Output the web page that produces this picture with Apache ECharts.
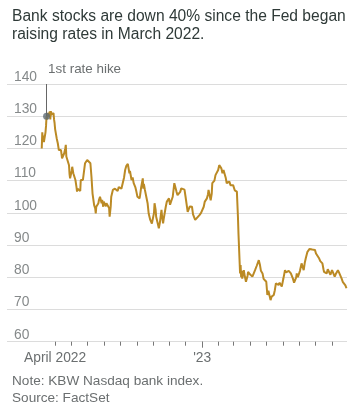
<!DOCTYPE html>
<html>
<head>
<meta charset="utf-8">
<script src="https://cdn.jsdelivr.net/npm/echarts@6/dist/echarts.min.js"></script>
<style>
html,body{margin:0;padding:0;background:#fff;}
#chart{width:355px;height:417px;}
</style>
</head>
<body>
<div id="chart"></div>
<script>
// ---- Data ----
const titleText = "Bank stocks are down 40% since the Fed began\nraising rates in March 2022.";
const noteText = "Note: KBW Nasdaq bank index.";
const sourceText = "Source: FactSet";

const dates = [
"2022-03-07","2022-03-08","2022-03-09","2022-03-10","2022-03-11","2022-03-14","2022-03-15","2022-03-16","2022-03-17","2022-03-18",
"2022-03-21","2022-03-22","2022-03-23","2022-03-24","2022-03-25","2022-03-28","2022-03-29","2022-03-30","2022-03-31","2022-04-01",
"2022-04-04","2022-04-06","2022-04-08","2022-04-11","2022-04-12","2022-04-14","2022-04-18","2022-04-20","2022-04-21","2022-04-22",
"2022-04-25","2022-04-27","2022-04-28","2022-04-29","2022-05-02","2022-05-03","2022-05-05","2022-05-09","2022-05-11","2022-05-12",
"2022-05-13","2022-05-16","2022-05-18","2022-05-19","2022-05-23","2022-05-25","2022-05-27","2022-05-31","2022-06-02","2022-06-06",
"2022-06-08","2022-06-10","2022-06-13","2022-06-15","2022-06-16","2022-06-17","2022-06-21","2022-06-22","2022-06-24","2022-06-27",
"2022-06-28","2022-06-30","2022-07-01","2022-07-05","2022-07-06","2022-07-08","2022-07-11","2022-07-12","2022-07-14","2022-07-15",
"2022-07-18","2022-07-20","2022-07-22","2022-07-25","2022-07-27","2022-07-29","2022-08-01","2022-08-03","2022-08-05","2022-08-08",
"2022-08-10","2022-08-12","2022-08-15","2022-08-16","2022-08-18","2022-08-19","2022-08-22","2022-08-24","2022-08-26","2022-08-29",
"2022-08-31","2022-09-02","2022-09-06","2022-09-07","2022-09-09","2022-09-12","2022-09-13","2022-09-14","2022-09-16","2022-09-19",
"2022-09-21","2022-09-23","2022-09-26","2022-09-29","2022-09-30","2022-10-03","2022-10-04","2022-10-06","2022-10-07","2022-10-11",
"2022-10-12","2022-10-14","2022-10-17","2022-10-18","2022-10-20","2022-10-21","2022-10-25","2022-10-26","2022-10-27","2022-10-31",
"2022-11-02","2022-11-03","2022-11-07","2022-11-10","2022-11-11","2022-11-14","2022-11-16","2022-11-18","2022-11-21","2022-11-23",
"2022-11-25","2022-11-29","2022-12-01","2022-12-05","2022-12-07","2022-12-09","2022-12-13","2022-12-15","2022-12-19","2022-12-22",
"2022-12-27","2022-12-30","2023-01-04","2023-01-06","2023-01-10","2023-01-12","2023-01-13","2023-01-17","2023-01-19","2023-01-20",
"2023-01-24","2023-01-26","2023-01-31","2023-02-02","2023-02-03","2023-02-06","2023-02-08","2023-02-10","2023-02-14","2023-02-16",
"2023-02-21","2023-02-23","2023-02-28","2023-03-03","2023-03-07","2023-03-08","2023-03-09","2023-03-10","2023-03-13","2023-03-14",
"2023-03-15","2023-03-16","2023-03-17","2023-03-20","2023-03-21","2023-03-24","2023-03-27","2023-03-28","2023-03-31","2023-04-03",
"2023-04-05","2023-04-07","2023-04-10","2023-04-13","2023-04-17","2023-04-19","2023-04-21","2023-04-24","2023-04-26","2023-04-28",
"2023-05-01","2023-05-03","2023-05-05","2023-05-09","2023-05-11","2023-05-15","2023-05-17","2023-05-19","2023-05-22","2023-05-24",
"2023-05-26","2023-05-30","2023-06-02","2023-06-05","2023-06-07","2023-06-09","2023-06-12","2023-06-14","2023-06-16","2023-06-20",
"2023-06-22","2023-06-26","2023-06-27","2023-06-29","2023-06-30","2023-07-03","2023-07-06","2023-07-10","2023-07-12","2023-07-14",
"2023-07-17","2023-07-19","2023-07-21","2023-07-24","2023-07-26","2023-07-28","2023-07-31","2023-08-02","2023-08-04","2023-08-08",
"2023-08-10","2023-08-14","2023-08-16","2023-08-17","2023-08-22","2023-08-24","2023-08-25","2023-08-29","2023-08-30","2023-09-01",
"2023-09-06","2023-09-08","2023-09-12","2023-09-14","2023-09-19","2023-09-21","2023-09-22","2023-09-26","2023-09-28"
];
const values = [
120,125,122.5,124,122,125,127,130,129,131,
130,131.5,129,131.6,130.5,130.4,131,129,127.9,126,
123.1,121.6,119.5,119,119.5,116.9,118.5,120,121.1,117.5,
116.9,114.8,112,110.7,113,114.3,112.3,110.2,108,106.6,
107.5,107.1,106.8,110.2,110.2,110.7,115.4,116.4,115.9,115.4,
111.2,106,102.4,101.4,99.8,101.9,103,104,105,103,
104,101.9,103.5,102,103,102.4,101.5,98.8,102,105,
107.1,106.5,107.5,107.7,106.8,108,108.1,107.5,108.1,111,
113.3,114.5,115.2,114.8,112.3,113,110.2,111,109.2,108,
106.6,105,104.5,105.5,108,110.7,107.5,109,107.1,106.6,
103,99.8,97.8,96.7,96.2,100,103,101,98.8,96,
95.2,97,100.9,99,96.7,98,101.9,101.4,103.5,104.5,
102.5,101.9,105,109.2,109.7,106.6,105.5,105.5,106.5,107.6,
107,107.2,105,100.3,100.8,102,101.9,99.5,97.8,98.2,
99.3,100,101.9,103.5,104.5,105.8,107.1,103.9,106,109.2,
110,111.7,113.3,114.8,114.2,113.8,112.3,113.3,111,109.2,
109.7,108.6,108.6,107,106.6,106,98.8,93.5,81.2,83.8,
80,82,79.6,82.2,81,78.6,80.5,81.7,81,80.5,
80.2,81,82.2,83.5,85.3,84,82,81.2,79.5,80,
78.6,74.5,75.8,72.9,74,74.5,76,78.1,77.5,77.6,
78.3,77.1,79.6,82.2,81.5,81.7,82,81.5,81.2,79.5,
78.3,80,81.2,80,80.5,82,84.3,82.2,84.5,86,
87.9,88.5,88.8,89,88.6,89,88.5,87.4,88,85.8,
85,84.3,82.5,81.7,81.2,82.5,82,80.8,80.2,82.2,
80.2,81,82.2,81.5,79.6,78.6,78.1,77.5,76.6
];

// Axis settings
const xMin = "2022-01-01";
const xMax = "2023-09-29";
const yMin = 60, yMax = 140, yStep = 10;
const monthTicks = [
"2022-04-01","2022-05-01","2022-06-01","2022-07-01","2022-08-01","2022-09-01","2022-10-01","2022-11-01","2022-12-01",
"2023-01-01","2023-02-01","2023-03-01","2023-04-01","2023-05-01","2023-06-01","2023-07-01","2023-08-01","2023-09-01"
];
const xLabelDates = ["2022-04-01","2023-01-01"];
const xLabelTexts = ["April 2022","'23"];
const yearTickDates = ["2023-01-01"];

// Annotation
const annoDate = "2022-03-16";
const annoValue = 130;
const annoTop = 140;
const annoText = "1st rate hike";

// ---- Build ----
function ts(s){ const p = s.split('-').map(Number); return Date.UTC(p[0], p[1]-1, p[2]); }
const seriesData = dates.map((d,i)=>[ts(d), values[i]]);
const labelTs = xLabelDates.map(ts);

const FONT = "'Liberation Sans', Arial, sans-serif";
const chart = echarts.init(document.getElementById('chart'), null, {renderer:'canvas'});
chart.setOption({
  animation: false,
  backgroundColor: '#fff',
  title: [
    { text: titleText, left: 7, top: 3,
      textStyle: { fontFamily: FONT, fontSize: 15.6, fontWeight: 'normal', color: '#2f3a38', lineHeight: 17.5 } },
    { text: noteText + "\n" + sourceText, left: 7, top: 367,
      textStyle: { fontFamily: FONT, fontSize: 13.6, fontWeight: 'normal', color: '#6b6f70', lineHeight: 17.5 } }
  ],
  grid: { left: 7, right: 8, top: 84, bottom: 75.3, containLabel: false },
  xAxis: [
    { type: 'value', min: ts(xMin), max: ts(xMax), scale: true,
      axisLine: { show: false },
      splitLine: { show: false },
      axisTick: { show: true, length: 4, lineStyle: { color: '#777', width: 1 }, customValues: monthTicks.map(ts) },
      axisLabel: { show: true, customValues: labelTs, margin: 9, hideOverlap: false,
        fontFamily: FONT, fontSize: 13.8, color: '#6b6f70',
        formatter: function(v){ const i = labelTs.indexOf(v); return i >= 0 ? xLabelTexts[i] : ''; } }
    },
    { type: 'value', min: ts(xMin), max: ts(xMax), scale: true, position: 'bottom',
      axisLine: { show: false }, splitLine: { show: false },
      axisTick: { show: true, length: 6, lineStyle: { color: '#777', width: 1 }, customValues: yearTickDates.map(ts) },
      axisLabel: { show: false }
    }
  ],
  yAxis: {
    type: 'value', min: yMin, max: yMax, interval: yStep,
    axisLine: { show: false }, axisTick: { show: false },
    splitLine: { show: true, lineStyle: { color: '#dcdcdc', width: 1 } },
    axisLabel: { inside: true, margin: 7, verticalAlign: 'bottom', padding: [0,0,0,0],
      fontFamily: FONT, fontSize: 13.8, color: '#85898a' }
  },
  series: [
    { type: 'line', data: seriesData, showSymbol: false, symbol: 'none',
      lineStyle: { color: '#bb8a25', width: 2 }, z: 3,
      markLine: {
        silent: true, symbol: 'none', animation: false,
        lineStyle: { color: '#666', width: 1, type: 'solid' },
        label: { show: true, position: 'end', formatter: annoText, offset: [38, -3],
          fontFamily: FONT, fontSize: 13.4, color: '#6b6f70' },
        data: [[ { coord: [ts(annoDate), annoValue] }, { coord: [ts(annoDate), annoTop] } ]]
      }
    },
    { type: 'scatter', data: [[ts(annoDate), annoValue]], symbolSize: 7, z: 5,
      itemStyle: { color: '#5f6c74' } }
  ]
});
</script>
</body>
</html>
